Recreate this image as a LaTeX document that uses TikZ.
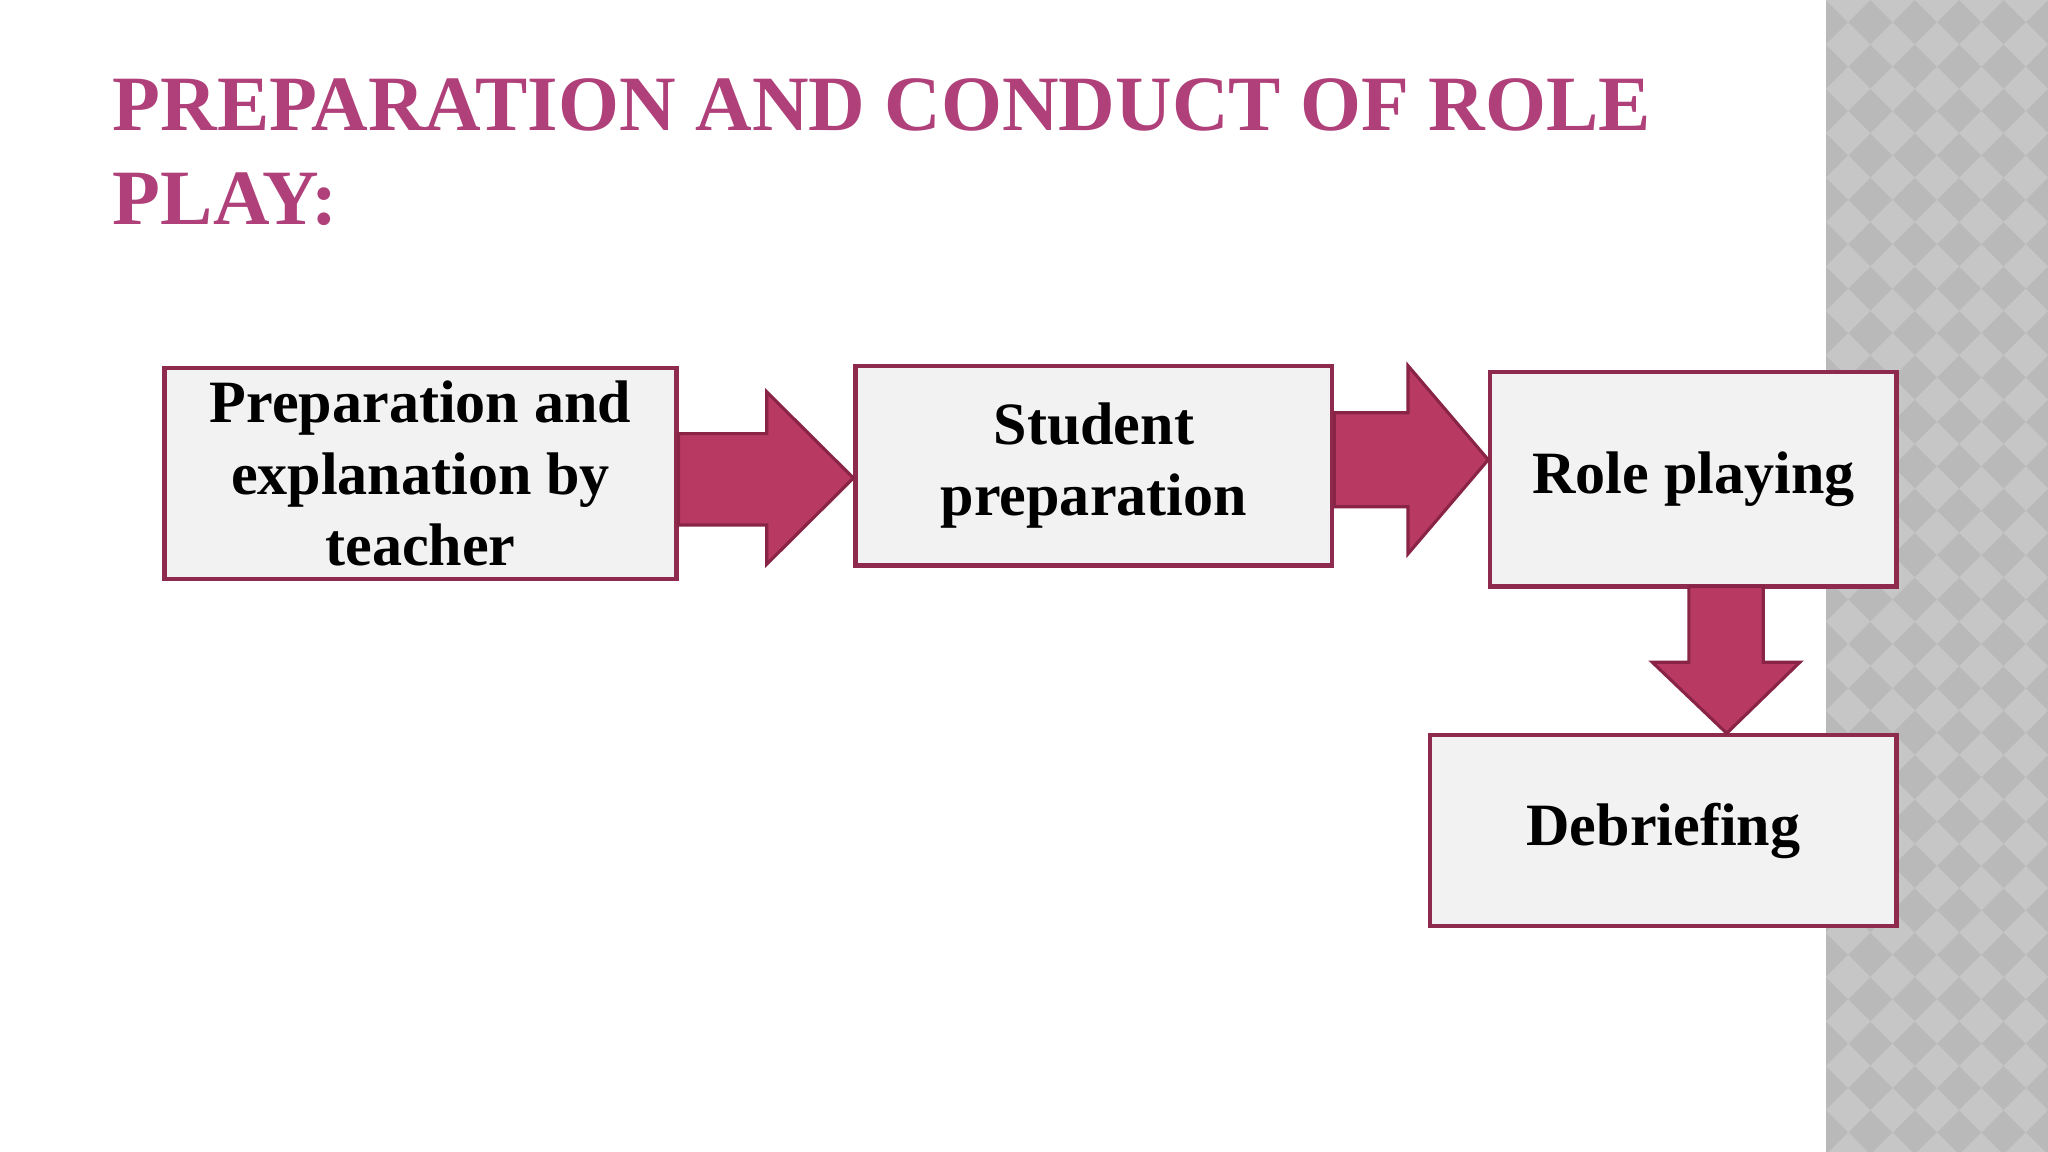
\documentclass[tikz,border=0pt]{standalone}
\usepackage{fontspec}
\setmainfont{Liberation Serif}
\definecolor{ttl}{HTML}{B0407A}
\definecolor{bord}{HTML}{8E2A4E}
\definecolor{arr}{HTML}{B83A63}
\definecolor{arrb}{HTML}{8A2446}
\definecolor{boxf}{HTML}{F2F2F2}
\begin{document}
\begin{tikzpicture}[x=0.5pt,y=-0.5pt,
  box/.style={draw=bord,line width=1.6pt,fill=boxf,inner sep=0pt,align=center,font=\fontsize{23}{27.5}\selectfont\bfseries},
  blk/.style={fill=arr,draw=arrb,line width=1.2pt,line join=miter}]
\useasboundingbox (0,0) rectangle (1568,882);
\fill[white] (0,0) rectangle (1568,882);
% patterned strip
\fill[gray!55] (1398,0) rectangle (1568,882);
\begin{scope}
\clip (1398,0) rectangle (1568,882);
\foreach \i in {0,...,5}{\foreach \j in {0,...,30}{
  \fill[gray!45] ({1398+\i*34},{\j*34}) -- ++(17,-17) -- ++(17,17) -- ++(-17,17) -- cycle;
}}
\end{scope}
\node[anchor=north west,align=left,text=ttl,font=\fontsize{30}{36}\selectfont\bfseries,inner sep=0pt] (title) at (86,60) {PREPARATION AND CONDUCT OF ROLE\\PLAY:};
% boxes
\node[box,minimum width=196pt,minimum height=80.5pt] (b1) at (322,362.5) {\raisebox{-3.5pt}{\parbox{190pt}{\centering Preparation and\\explanation by\\teacher}}};
\node[box,minimum width=182.5pt,minimum height=76.5pt] (b2) at (837.5,356.5) {\raisebox{-3.5pt}{\parbox{180pt}{\centering Student\\preparation}}};
\node[box,minimum width=155.5pt,minimum height=82pt] (b3) at (1296.5,367) {\raisebox{-3.5pt}{Role playing}};
\node[box,minimum width=178.5pt,minimum height=73pt] (b4) at (1273.5,636) {\raisebox{-3.5pt}{Debriefing}};
% block arrows
\draw[blk] (b1.east |- 0,332) -- (587,332) -- (587,300) -- (b2.west |- 0,366) -- (587,432) -- (587,402) -- (b1.east |- 0,402) -- cycle;
\draw[blk] (b2.east |- 0,316) -- (1078,316) -- (1078,280) -- (b3.west |- 0,352) -- (1078,424) -- (1078,388) -- (b2.east |- 0,388) -- cycle;
\draw[blk] (1293,449) -- (1293,507) -- (1265,507) -- (b4.north -| 1322,0) -- (1378,507) -- (1350,507) -- (1350,449) -- cycle;
\end{tikzpicture}
\end{document}
